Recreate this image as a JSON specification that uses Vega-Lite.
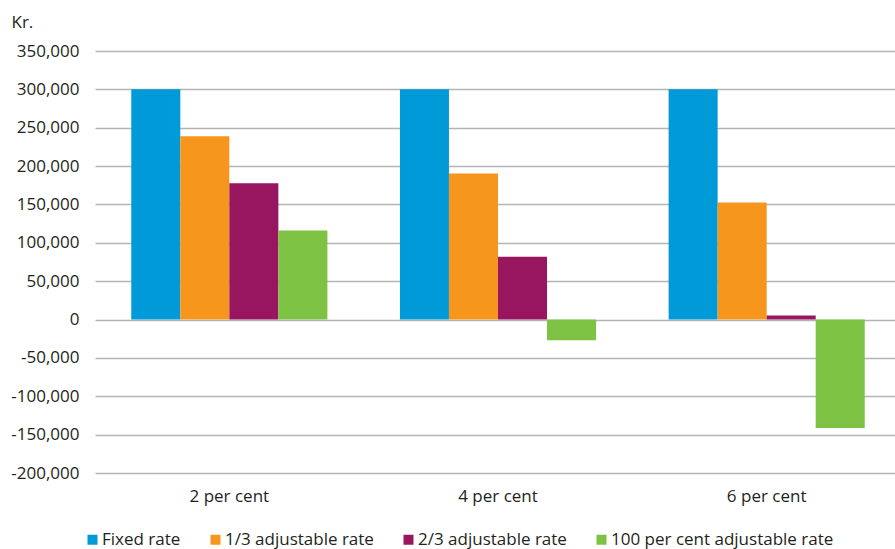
{
  "$schema": "https://vega.github.io/schema/vega-lite/v6.json",
  "width": 806,
  "height": 422,
  "autosize": {"type": "none"},
  "padding": {"left": 95, "top": 51, "right": 0, "bottom": 76},
  "config": {
    "view": {"stroke": null},
    "font": "Open Sans",
    "axis": {"labelColor": "#231f20", "titleColor": "#231f20"},
    "legend": {"labelColor": "#231f20"}
  },
  "data": {
    "values": [
      {"rate": "2 per cent", "loan": "Fixed rate", "value": 300000},
      {"rate": "2 per cent", "loan": "1/3 adjustable rate", "value": 239000},
      {"rate": "2 per cent", "loan": "2/3 adjustable rate", "value": 177500},
      {"rate": "2 per cent", "loan": "100 per cent adjustable rate", "value": 116000},
      {"rate": "4 per cent", "loan": "Fixed rate", "value": 300000},
      {"rate": "4 per cent", "loan": "1/3 adjustable rate", "value": 190500},
      {"rate": "4 per cent", "loan": "2/3 adjustable rate", "value": 82000},
      {"rate": "4 per cent", "loan": "100 per cent adjustable rate", "value": -27000},
      {"rate": "6 per cent", "loan": "Fixed rate", "value": 300000},
      {"rate": "6 per cent", "loan": "1/3 adjustable rate", "value": 152500},
      {"rate": "6 per cent", "loan": "2/3 adjustable rate", "value": 5200},
      {"rate": "6 per cent", "loan": "100 per cent adjustable rate", "value": -141500}
    ]
  },
  "mark": {"type": "bar"},
  "encoding": {
    "x": {
      "field": "rate",
      "type": "nominal",
      "sort": ["2 per cent", "4 per cent", "6 per cent"],
      "scale": {"paddingInner": 0.27, "paddingOuter": 0.135},
      "axis": {
        "title": null,
        "labelAngle": 0,
        "domain": false,
        "ticks": false,
        "labelPadding": 15,
        "labelFontSize": 17
      }
    },
    "xOffset": {
      "field": "loan",
      "type": "nominal",
      "sort": ["Fixed rate", "1/3 adjustable rate", "2/3 adjustable rate", "100 per cent adjustable rate"],
      "scale": {"paddingInner": 0, "paddingOuter": 0}
    },
    "y": {
      "field": "value",
      "type": "quantitative",
      "scale": {"domain": [-200000, 350000], "nice": false},
      "axis": {
        "values": [-200000, -150000, -100000, -50000, 0, 50000, 100000, 150000, 200000, 250000, 300000, 350000],
        "labelExpr": "replace(format(datum.value, ',d'), '\u2212', '-')",
        "domain": false,
        "ticks": false,
        "grid": true,
        "gridColor": "#b4b4b4",
        "gridWidth": 1.3,
        "labelPadding": 16,
        "labelFontSize": 17,
        "title": "Kr.",
        "titleAngle": 0,
        "titleAlign": "left",
        "titleBaseline": "alphabetic",
        "titleX": -84,
        "titleY": -24,
        "titleFontSize": 17,
        "titleFontWeight": "normal"
      }
    },
    "color": {
      "field": "loan",
      "type": "nominal",
      "scale": {
        "domain": ["Fixed rate", "1/3 adjustable rate", "2/3 adjustable rate", "100 per cent adjustable rate"],
        "range": ["#009ad8", "#f7961d", "#98155f", "#7dc242"]
      },
      "legend": {
        "title": null,
        "orient": "none",
        "direction": "horizontal",
        "legendX": -11,
        "legendY": 480,
        "padding": 0,
        "symbolType": "square",
        "symbolSize": 100,
        "symbolStrokeWidth": 0,
        "labelFontSize": 17,
        "labelOffset": 1,
        "labelLimit": 400,
        "columnPadding": 26
      }
    }
  }
}
